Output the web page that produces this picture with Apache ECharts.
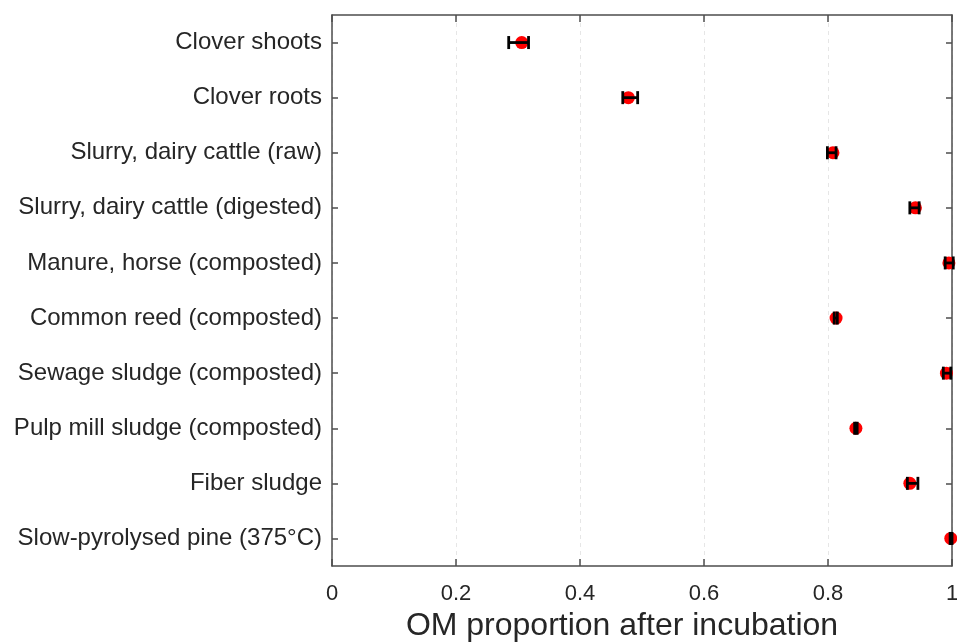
<!DOCTYPE html>
<html>
<head>
<meta charset="utf-8">
<script src="https://cdn.jsdelivr.net/npm/echarts@6/dist/echarts.min.js"></script>
<style>
  html, body { margin: 0; padding: 0; background: #fff; }
  #main { width: 957px; height: 642px; }
</style>
</head>
<body>
<div id="main"></div>
<script>
// materials, top to bottom
var categories = [
    'Clover shoots',
    'Clover roots',
    'Slurry, dairy cattle (raw)',
    'Slurry, dairy cattle (digested)',
    'Manure, horse (composted)',
    'Common reed (composted)',
    'Sewage sludge (composted)',
    'Pulp mill sludge (composted)',
    'Fiber sludge',
    'Slow-pyrolysed pine (375°C)'
];
var meanValues = [0.306, 0.478, 0.808, 0.941, 0.995, 0.813, 0.991, 0.845, 0.932, 0.998];
var lowValues  = [0.285, 0.469, 0.799, 0.932, 0.989, 0.810, 0.986, 0.843, 0.928, 0.997];
var highValues = [0.317, 0.493, 0.813, 0.947, 1.002, 0.815, 0.998, 0.847, 0.945, 1.000];
var xTicks = [0, 0.2, 0.4, 0.6, 0.8, 1];

var dotData = [];
var barData = [];
for (var i = 0; i < categories.length; i++) {
    dotData.push([meanValues[i], i]);
    barData.push([lowValues[i], highValues[i], i]);
}

var axisColor = '#4d4d4d';
var fontName = '"Liberation Sans", Arial, sans-serif';

var myChart = echarts.init(document.getElementById('main'));
var option = {
    animation: false,
    backgroundColor: '#fff',
    grid: {left: 332, right: 5, top: 15, bottom: 76, containLabel: false, outerBoundsMode: 'none'},
    xAxis: [{
        type: 'value', min: 0, max: 1, interval: 0.2, position: 'bottom',
        name: 'OM proportion after incubation', nameLocation: 'middle', nameGap: 43,
        nameTextStyle: {fontSize: 32, color: '#262626', fontFamily: fontName, padding: [0, 40, 0, 0]},
        axisLine: {show: true, onZero: false, lineStyle: {color: axisColor, width: 1.5}},
        axisTick: {show: true, inside: true, length: 7, lineStyle: {color: axisColor, width: 1.5}},
        axisLabel: {fontSize: 22, color: '#262626', fontFamily: fontName, margin: 17,
            formatter: function (v) { return xTicks.indexOf(v) >= 0 ? String(v) : ''; }},
        splitLine: {show: true, lineStyle: {color: '#e6e6e6', type: [4, 4], width: 1}}
    }, {
        type: 'value', min: 0, max: 1, interval: 0.2, position: 'top',
        axisLine: {show: true, onZero: false, lineStyle: {color: axisColor, width: 1.5}},
        axisTick: {show: true, inside: true, length: 7, lineStyle: {color: axisColor, width: 1.5}},
        axisLabel: {show: false},
        splitLine: {show: false}
    }],
    yAxis: [{
        type: 'category', data: categories, inverse: true, position: 'left',
        axisLine: {show: true, onZero: false, lineStyle: {color: axisColor, width: 1.5}},
        axisTick: {show: true, inside: true, alignWithLabel: true, length: 6, lineStyle: {color: axisColor, width: 1.5}},
        axisLabel: {fontSize: 24, color: '#262626', fontFamily: fontName, margin: 10},
        splitLine: {show: false}
    }, {
        type: 'category', data: categories, inverse: true, position: 'right',
        axisLine: {show: true, onZero: false, lineStyle: {color: axisColor, width: 1.5}},
        axisTick: {show: true, inside: true, alignWithLabel: true, length: 6, lineStyle: {color: axisColor, width: 1.5}},
        axisLabel: {show: false},
        splitLine: {show: false}
    }],
    series: [{
        type: 'scatter',
        data: dotData,
        symbol: 'circle',
        symbolSize: 13,
        itemStyle: {color: '#ff0000', opacity: 1},
        z: 3
    }, {
        type: 'custom',
        data: barData,
        encode: {x: [0, 1], y: 2},
        z: 4,
        renderItem: function (params, api) {
            var p1 = api.coord([api.value(0), api.value(2)]);
            var p2 = api.coord([api.value(1), api.value(2)]);
            var h = 6.5;
            var style = {stroke: '#000', lineWidth: 2.8};
            return {
                type: 'group',
                children: [
                    {type: 'line', shape: {x1: p1[0], y1: p1[1], x2: p2[0], y2: p2[1]}, style: style},
                    {type: 'line', shape: {x1: p1[0], y1: p1[1] - h, x2: p1[0], y2: p1[1] + h}, style: style},
                    {type: 'line', shape: {x1: p2[0], y1: p2[1] - h, x2: p2[0], y2: p2[1] + h}, style: style}
                ]
            };
        }
    }]
};
myChart.setOption(option);
</script>
</body>
</html>
